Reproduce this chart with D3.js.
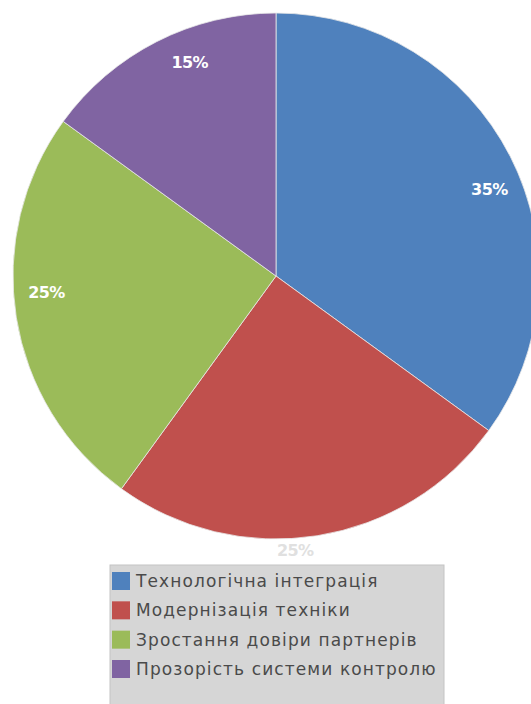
<!DOCTYPE html>
<html>
<head>
<meta charset="utf-8">
<script src="https://cdn.jsdelivr.net/npm/d3@7"></script>
<style>
  html, body { margin: 0; padding: 0; background: #ffffff; }
  svg { display: block; }
</style>
</head>
<body>
<svg id="chart" width="531" height="704"></svg>
<script>
// Chart data
const categories = [
  "Технологічна інтеграція",
  "Модернізація техніки",
  "Зростання довіри партнерів",
  "Прозорість системи контролю"
];
const values = [35, 25, 25, 15];
const colors = ["#4f81bd", "#c0504d", "#9bbb59", "#8064a2"];

const svg = d3.select("#chart");
const cx = 276, cy = 276, R = 263;

const pie = d3.pie().sort(null).value(d => d)(values);
const arc = d3.arc().innerRadius(0).outerRadius(R);

const g = svg.append("g").attr("transform", `translate(${cx},${cy})`);

g.selectAll("path.slice")
  .data(pie)
  .join("path")
  .attr("class", "slice")
  .attr("d", arc)
  .attr("fill", (d, i) => colors[i])
  .attr("stroke", "#e8e8e8")
  .attr("stroke-width", 0.8);

// Percent labels: inside the slice when there is room, otherwise just outside
const nudge = 5 * Math.PI / 180;
g.selectAll("text.pct")
  .data(pie)
  .join("text")
  .attr("class", "pct")
  .each(function(d, i) {
    const a = (d.startAngle + d.endAngle) / 2 + nudge;
    const inside = i !== 1;
    const r = inside ? R * 0.875 : R * 1.045;
    d3.select(this)
      .attr("x", Math.sin(a) * r)
      .attr("y", -Math.cos(a) * r)
      .attr("fill", inside ? "#ffffff" : "#e0e0e0");
  })
  .attr("text-anchor", "middle")
  .attr("dominant-baseline", "central")
  .attr("font-family", "'DejaVu Sans', sans-serif")
  .attr("font-weight", "bold")
  .attr("font-size", 16)
  .attr("letter-spacing", -0.6)
  .text(d => d.data + "%");

// Legend
const lg = svg.append("g").attr("transform", "translate(110,565)");
lg.append("rect")
  .attr("x", 0).attr("y", 0)
  .attr("width", 334).attr("height", 150)
  .attr("fill", "#d6d6d6")
  .attr("stroke", "#c4c4c4")
  .attr("stroke-width", 1);

const rowY = d3.scalePoint().domain(categories).range([16, 104]);

const items = lg.selectAll("g.item")
  .data(categories)
  .join("g")
  .attr("class", "item")
  .attr("transform", d => `translate(0,${rowY(d)})`);

items.append("rect")
  .attr("x", 2).attr("y", -9)
  .attr("width", 18).attr("height", 18)
  .attr("fill", (d, i) => colors[i]);

items.append("text")
  .attr("x", 26)
  .attr("y", 0)
  .attr("dominant-baseline", "central")
  .attr("font-family", "'DejaVu Sans', sans-serif")
  .attr("font-size", 17)
  .attr("letter-spacing", 1.1)
  .attr("fill", "#4a4a4a")
  .text(d => d);
</script>
</body>
</html>
